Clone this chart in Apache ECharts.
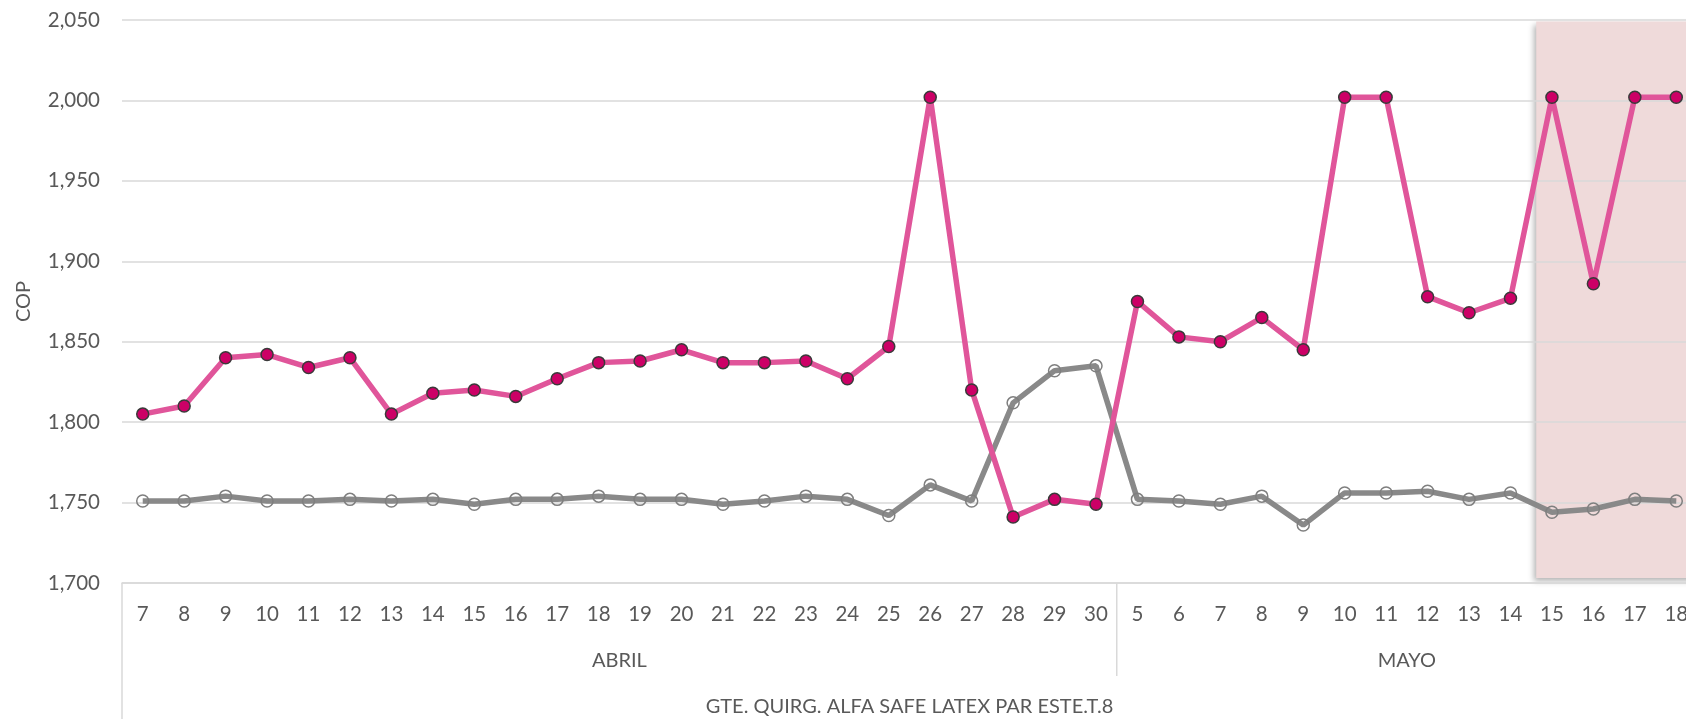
<!DOCTYPE html>
<html>
<head>
<meta charset="utf-8">
<script src="https://cdn.jsdelivr.net/npm/echarts@6/dist/echarts.min.js"></script>
<style>
html,body{margin:0;padding:0;background:#fff;}
#c{width:1686px;height:719px;}
</style>
</head>
<body>
<div id="c"></div>
<script>
// ---- data ----
const aprilDays = ['7','8','9','10','11','12','13','14','15','16','17','18','19','20','21','22','23','24','25','26','27','28','29','30'];
const mayDays = ['5','6','7','8','9','10','11','12','13','14','15','16','17','18'];
const monthLabels = ['ABRIL', 'MAYO'];
const productLabel = 'GTE. QUIRG. ALFA SAFE LATEX PAR ESTE.T.8';
const pinkApril = [1805,1810,1840,1842,1834,1840,1805,1818,1820,1816,1827,1837,1838,1845,1837,1837,1838,1827,1847,2002,1820,1741,1752,1749];
const pinkMay = [1875,1853,1850,1865,1845,2002,2002,1878,1868,1877,2002,1886,2002,2002];
const grayApril = [1751,1751,1754,1751,1751,1752,1751,1752,1749,1752,1752,1754,1752,1752,1749,1751,1754,1752,1742,1761,1751,1812,1832,1835];
const grayMay = [1752,1751,1749,1754,1736,1756,1756,1757,1752,1756,1744,1746,1752,1751];
const yTicks = {min: 1700, max: 2050, interval: 50};
const shadeFromMayDay = '15';

const categories = aprilDays.concat(mayDays);
const pinkData = pinkApril.concat(pinkMay);
const grayData = grayApril.concat(grayMay);

const FONT = 'Lato';
const TXT = '#595959';
const GRID_COLOR = '#D9D9D9';

const chart = echarts.init(document.getElementById('c'), null, {renderer: 'canvas'});
const gridLeft = 122, gridTop = 20, gridWidth = 1575, gridHeight = 563;

chart.setOption({
  animation: false,
  backgroundColor: '#fff',
  grid: {left: gridLeft, top: gridTop, width: gridWidth, height: gridHeight, containLabel: false, outerBoundsMode: 'none'},
  xAxis: {
    type: 'category',
    data: categories,
    boundaryGap: true,
    axisLine: {show: true, lineStyle: {color: GRID_COLOR, width: 1.5}},
    axisTick: {show: false},
    axisLabel: {color: TXT, fontSize: 20.5, fontFamily: FONT, margin: 21, interval: 0}
  },
  yAxis: {
    type: 'value',
    min: yTicks.min, max: yTicks.max, interval: yTicks.interval,
    axisLine: {show: false},
    axisTick: {show: false},
    splitLine: {lineStyle: {color: GRID_COLOR, width: 1.5}},
    axisLabel: {
      color: TXT, fontSize: 20.5, fontFamily: FONT, margin: 22,
      formatter: v => v.toLocaleString('en-US')
    },
    name: 'COP',
    nameLocation: 'middle',
    nameRotate: 90,
    nameGap: 88,
    nameTextStyle: {color: TXT, fontSize: 20, fontFamily: FONT}
  },
  series: [
    {
      name: 'Precio',
      type: 'line',
      data: pinkData,
      z: 3,
      symbol: 'circle',
      symbolSize: 12,
      lineStyle: {color: '#E0559A', width: 5.5},
      itemStyle: {color: '#CC0066', borderColor: '#3A3A3A', borderWidth: 1.5}
    },
    {
      name: 'Referencia',
      type: 'line',
      data: grayData,
      z: 2,
      symbol: 'circle',
      symbolSize: 12,
      lineStyle: {color: '#898989', width: 5.5},
      itemStyle: {color: 'rgba(255,255,255,0)', borderColor: '#7F7F7F', borderWidth: 1.5}
    }
  ]
});

function boundaryX(i) {
  const c0 = chart.convertToPixel({xAxisIndex: 0}, 0);
  const c1 = chart.convertToPixel({xAxisIndex: 0}, 1);
  const band = c1 - c0;
  return c0 - band / 2 + i * band;
}
const yBottom = chart.convertToPixel({yAxisIndex: 0}, yTicks.min);
const yTop = chart.convertToPixel({yAxisIndex: 0}, yTicks.max);
const nA = aprilDays.length, nAll = categories.length;
const xL = boundaryX(0), xSep = boundaryX(nA), xR = boundaryX(nAll);
const shadeStart = boundaryX(nA + mayDays.indexOf(shadeFromMayDay)) + 5;

chart.setOption({
  graphic: [
    {
      type: 'rect', z: -1, silent: true,
      shape: {x: shadeStart, y: yTop + 1.5, width: xR - shadeStart + 20, height: (yBottom - 5) - (yTop + 1.5)},
      style: {fill: '#EFDADA', shadowBlur: 6, shadowOffsetX: -2, shadowOffsetY: 3, shadowColor: 'rgba(0,0,0,0.3)'}
    },
    {type: 'line', silent: true, shape: {x1: xL, y1: yBottom, x2: xL, y2: 719}, style: {stroke: GRID_COLOR, lineWidth: 1.5}},
    {type: 'line', silent: true, shape: {x1: xSep, y1: yBottom, x2: xSep, y2: 676}, style: {stroke: GRID_COLOR, lineWidth: 1.5}},
    {type: 'text', silent: true, x: (xL + xSep) / 2, y: 661,
      style: {text: monthLabels[0], fill: TXT, font: '20px ' + FONT, textAlign: 'center', textVerticalAlign: 'middle'}},
    {type: 'text', silent: true, x: (xSep + xR) / 2, y: 661,
      style: {text: monthLabels[1], fill: TXT, font: '20px ' + FONT, textAlign: 'center', textVerticalAlign: 'middle'}},
    {type: 'text', silent: true, x: (xL + xR) / 2, y: 707,
      style: {text: productLabel, fill: TXT, font: '20px ' + FONT, textAlign: 'center', textVerticalAlign: 'middle'}}
  ]
});
</script>
</body>
</html>
